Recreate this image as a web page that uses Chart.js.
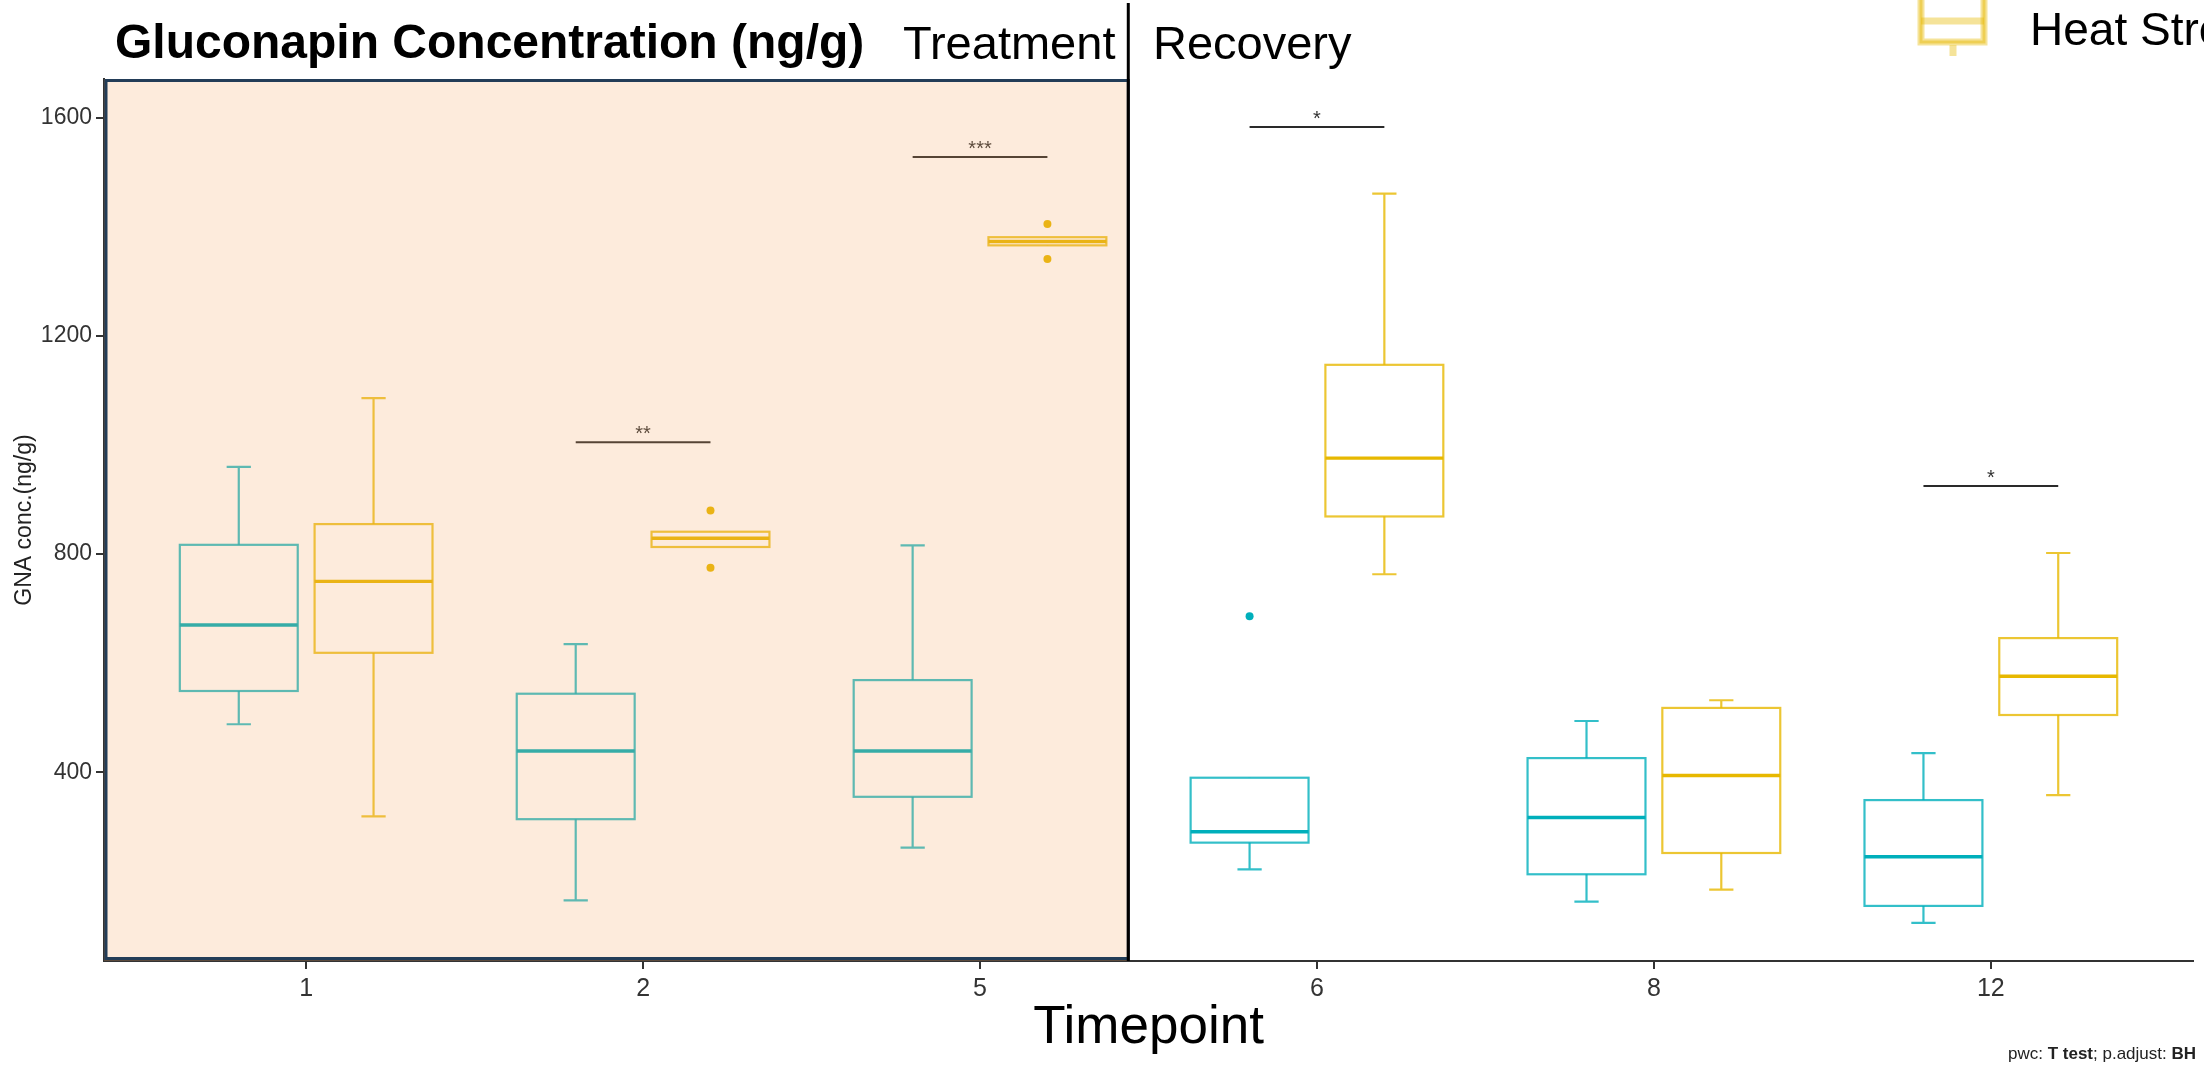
<!DOCTYPE html>
<html>
<head>
<meta charset="utf-8">
<script src="https://cdn.jsdelivr.net/npm/chart.js@4.4.1/dist/chart.umd.min.js"></script>
<style>
  html, body { margin: 0; padding: 0; background: #fff; }
  #wrap { width: 2204px; height: 1066px; }
</style>
</head>
<body>
<div id="wrap"><canvas id="gna" width="2204" height="1066"></canvas></div>
<script>
const timepoints = ['1', '2', '5', '6', '8', '12'];

// Control (teal)
const ctrlMin      = [488, 165, 262, 222, 163, 124];
const ctrlQ1       = [549, 314, 355, 271, 213, 155];
const ctrlMedian   = [670, 439, 439, 291, 317, 245];
const ctrlQ3       = [817, 544, 569, 390, 426, 349];
const ctrlMax      = [960, 635, 816, 390, 494, 435];
const ctrlOutliers = [[], [], [], [686], [], []];

// Heat Stress (gold)
const heatMin      = [319, 813, 1366, 763, 185, 358];
const heatQ1       = [619, 813, 1366, 869, 252, 505];
const heatMedian   = [750, 829, 1373, 976, 394, 576];
const heatQ3       = [855, 841, 1381, 1147, 518, 646];
const heatMax      = [1086, 841, 1381, 1461, 532, 802];
const heatOutliers = [[], [880, 775], [1405, 1341], [], [], []];

// pairwise t tests (only significant ones are shown)
const sigIndex  = [1, 2, 3, 5];
const sigHeight = [1005, 1528, 1583, 925];
const sigLabel  = ['**', '***', '*', '*'];

const yTicks = [400, 800, 1200, 1600];

const teal = '#00AFBB';
const gold = '#E7B800';
const dodge = 0.2;
const FONT = '"Liberation Sans", Arial, sans-serif';

const outlierPoints = (list, offset) => {
    let pts = [];
    list.forEach((vals, i) => {
        for (v of vals) pts.push({ x: i + offset, y: v });
    });
    return pts;
};

const drawBox = (ctx, xs, ys, center, lo, q1, med, q3, hi, color, faded) => {
    const xl = xs.getPixelForValue(center - 0.175);
    const xr = xs.getPixelForValue(center + 0.175);
    const xc = xs.getPixelForValue(center);
    const cl = xs.getPixelForValue(center - 0.036);
    const cr = xs.getPixelForValue(center + 0.036);

    // whisker + caps
    ctx.strokeStyle = faded;
    ctx.lineWidth = 2.2;
    ctx.beginPath();
    ctx.moveTo(xc, ys.getPixelForValue(lo));
    ctx.lineTo(xc, ys.getPixelForValue(hi));
    if (hi > q3) {
        ctx.moveTo(cl, ys.getPixelForValue(hi));
        ctx.lineTo(cr, ys.getPixelForValue(hi));
    }
    if (lo < q1) {
        ctx.moveTo(cl, ys.getPixelForValue(lo));
        ctx.lineTo(cr, ys.getPixelForValue(lo));
    }
    ctx.stroke();

    // box
    const yt = ys.getPixelForValue(q3), yb = ys.getPixelForValue(q1);
    ctx.fillStyle = '#fff';
    ctx.fillRect(xl, yt, xr - xl, yb - yt);
    ctx.strokeRect(xl, yt, xr - xl, yb - yt);

    // median
    ctx.strokeStyle = color;
    ctx.lineWidth = 3.4;
    ctx.beginPath();
    ctx.moveTo(xl, ys.getPixelForValue(med));
    ctx.lineTo(xr, ys.getPixelForValue(med));
    ctx.stroke();
};

const boxPlugin = {
    id: 'boxes',
    beforeDatasetsDraw(chart) {
        const { ctx, scales: { x, y } } = chart;
        ctx.save();
        timepoints.forEach((t, i) => {
            drawBox(ctx, x, y, i - dodge, ctrlMin[i], ctrlQ1[i], ctrlMedian[i], ctrlQ3[i], ctrlMax[i], teal, 'rgba(0,175,187,0.8)');
            drawBox(ctx, x, y, i + dodge, heatMin[i], heatQ1[i], heatMedian[i], heatQ3[i], heatMax[i], gold, 'rgba(231,184,0,0.8)');
        });

        // significance brackets
        ctx.strokeStyle = '#2a2a2a';
        ctx.fillStyle = '#333';
        ctx.lineWidth = 2;
        ctx.font = '20px ' + FONT;
        ctx.textAlign = 'center';
        ctx.textBaseline = 'alphabetic';
        sigIndex.forEach((idx, k) => {
            const yy = y.getPixelForValue(sigHeight[k]);
            const x1 = x.getPixelForValue(idx - dodge);
            const x2 = x.getPixelForValue(idx + dodge);
            ctx.beginPath();
            ctx.moveTo(x1, yy);
            ctx.lineTo(x2, yy);
            ctx.stroke();
            ctx.fillText(sigLabel[k], (x1 + x2) / 2, yy - 2);
        });
        ctx.restore();
    },
    afterDatasetsDraw(chart) {
        const { ctx, chartArea, scales: { x, y } } = chart;
        const xEnd = x.getPixelForValue(2.44);
        ctx.save();
        // treatment period shading
        ctx.fillStyle = 'rgba(244,164,96,0.22)';
        ctx.fillRect(chartArea.left, chartArea.top, xEnd - chartArea.left, chartArea.bottom - chartArea.top);
        ctx.strokeStyle = '#233d58';
        ctx.lineWidth = 3;
        ctx.strokeRect(chartArea.left + 2, chartArea.top + 1.5, xEnd - chartArea.left - 2, chartArea.bottom - chartArea.top - 4);
        // treatment / recovery divider
        ctx.strokeStyle = '#000';
        ctx.lineWidth = 3;
        ctx.beginPath();
        ctx.moveTo(xEnd, 3);
        ctx.lineTo(xEnd, chartArea.bottom);
        ctx.stroke();
        ctx.restore();
    },
    afterDraw(chart) {
        const { ctx } = chart;
        ctx.save();
        ctx.textBaseline = 'alphabetic';
        ctx.textAlign = 'left';
        ctx.fillStyle = '#000';
        ctx.font = 'bold 48px ' + FONT;
        ctx.fillText('Gluconapin Concentration (ng/g)', 115, 58);
        ctx.font = '47px ' + FONT;
        ctx.fillText('Treatment', 903, 59);
        ctx.fillText('Recovery', 1153, 59);

        // legend (only the lower item fits in the frame)
        ctx.strokeStyle = 'rgba(231,184,0,0.4)';
        ctx.lineWidth = 7;
        ctx.strokeRect(1921, -40, 63, 82);
        ctx.beginPath();
        ctx.moveTo(1921, 21);
        ctx.lineTo(1984, 21);
        ctx.moveTo(1953, 45);
        ctx.lineTo(1953, 56);
        ctx.stroke();
        ctx.strokeStyle = 'rgba(231,184,0,0.45)';
        ctx.lineWidth = 3;
        ctx.strokeRect(1921, -40, 63, 82);
        ctx.fillStyle = '#000';
        ctx.font = '46px ' + FONT;
        ctx.fillText('Heat Stress', 2030, 45);

        // caption
        const parts = [['pwc: ', false], ['T test', true], ['; p.adjust: ', false], ['BH', true]];
        let widths = parts.map(p => {
            ctx.font = (p[1] ? 'bold ' : '') + '17px ' + FONT;
            return ctx.measureText(p[0]).width;
        });
        let cx = 2196 - widths.reduce((a, b) => a + b, 0);
        ctx.fillStyle = '#222';
        parts.forEach((p, i) => {
            ctx.font = (p[1] ? 'bold ' : '') + '17px ' + FONT;
            ctx.fillText(p[0], cx, 1059);
            cx += widths[i];
        });
        ctx.restore();
    }
};

new Chart(document.getElementById('gna'), {
    type: 'scatter',
    data: {
        datasets: [
            {
                label: 'Control',
                data: outlierPoints(ctrlOutliers, -dodge),
                backgroundColor: teal,
                borderColor: teal,
                pointRadius: 4,
                pointBorderWidth: 0
            },
            {
                label: 'Heat Stress',
                data: outlierPoints(heatOutliers, dodge),
                backgroundColor: gold,
                borderColor: gold,
                pointRadius: 4,
                pointBorderWidth: 0
            }
        ]
    },
    options: {
        responsive: false,
        devicePixelRatio: 1,
        animation: false,
        layout: { padding: { top: 79, right: 11, left: 0, bottom: 0 } },
        plugins: {
            legend: { display: false },
            tooltip: { enabled: false }
        },
        scales: {
            x: {
                type: 'linear',
                min: -0.6,
                max: 5.6,
                afterBuildTicks: (s) => { s.ticks = timepoints.map((t, i) => ({ value: i })); },
                afterFit: (s) => { s.height = 105; },
                ticks: {
                    callback: (v) => timepoints[v],
                    autoSkip: false,
                    maxRotation: 0,
                    padding: 5,
                    color: '#333',
                    font: { family: FONT, size: 25 }
                },
                grid: { drawOnChartArea: false, drawTicks: true, tickLength: 8, color: '#333', lineWidth: 2 },
                border: { display: true, color: '#333', width: 2 },
                title: {
                    display: true,
                    text: 'Timepoint',
                    color: '#000',
                    font: { family: FONT, size: 53 },
                    padding: { top: 0, bottom: 6 }
                }
            },
            y: {
                min: 54,
                max: 1671,
                afterBuildTicks: (s) => { s.ticks = yTicks.map(v => ({ value: v })); },
                afterFit: (s) => { s.width = 104; },
                ticks: {
                    callback: (v) => String(v),
                    padding: 4,
                    color: '#333',
                    font: { family: FONT, size: 23 }
                },
                grid: { drawOnChartArea: false, drawTicks: true, tickLength: 8, color: '#333', lineWidth: 2 },
                border: { display: true, color: '#333', width: 2 },
                title: {
                    display: true,
                    text: 'GNA conc.(ng/g)',
                    color: '#222',
                    font: { family: FONT, size: 23 },
                    padding: { top: 11, bottom: 0 }
                }
            }
        }
    },
    plugins: [boxPlugin]
});
</script>
</body>
</html>
